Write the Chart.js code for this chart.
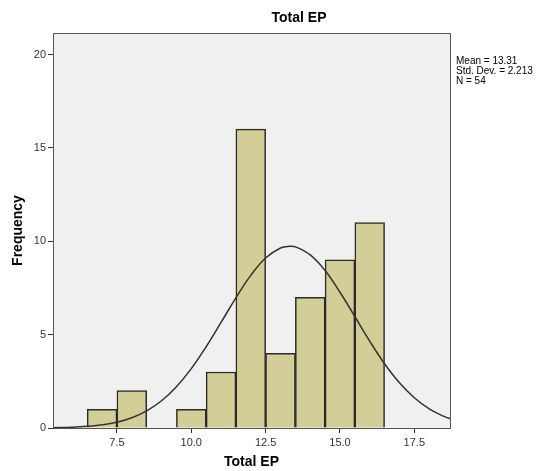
<!DOCTYPE html>
<html>
<head>
<meta charset="utf-8">
<script src="https://cdn.jsdelivr.net/npm/chart.js@4"></script>
<style>
  html, body { margin: 0; padding: 0; background: #fff; }
  #wrap { width: 537px; height: 471px; }
</style>
</head>
<body>
<div id="wrap"><canvas id="histChart" width="537" height="471"></canvas></div>
<script>
// Histogram bins (bin centres) and counts
const binCentres = [7, 8, 10, 11, 12, 13, 14, 15, 16];
const counts = [1, 2, 1, 3, 16, 4, 7, 9, 11];

// Normal curve
const curveX = [5.35, 6, 6.5, 7, 7.5, 8, 8.5, 9, 9.5, 10, 10.5, 11, 11.5, 12, 12.5, 13, 13.31, 13.5, 14, 14.5, 15, 15.5, 16, 16.5, 17, 17.5, 18, 18.5, 18.7];
const curveY = [0.02, 0.04, 0.09, 0.17, 0.31, 0.55, 0.92, 1.46, 2.21, 3.18, 4.35, 5.65, 6.97, 8.17, 9.10, 9.64, 9.73, 9.70, 9.27, 8.43, 7.27, 5.97, 4.65, 3.44, 2.42, 1.62, 1.03, 0.62, 0.50];

const xTicks = [7.5, 10.0, 12.5, 15.0, 17.5];
const yTicks = [0, 5, 10, 15, 20];
const statsLines = ['Mean = 13.31', 'Std. Dev. = 2.213', 'N = 54'];

const FONT = 'Liberation Sans, Arial, sans-serif';

// plot background, frame, title and stats text
const decor = {
  id: 'decor',
  beforeDraw(chart) {
    const { ctx, chartArea: a } = chart;
    ctx.save();
    ctx.fillStyle = '#f0f0f0';
    ctx.fillRect(a.left, a.top, a.right - a.left, a.bottom - a.top);
    ctx.restore();
  },
  afterDraw(chart) {
    const { ctx, chartArea: a } = chart;
    ctx.save();
    ctx.strokeStyle = '#555';
    ctx.lineWidth = 1;
    ctx.strokeRect(a.left + 0.5, a.top + 0.5, a.right - a.left, a.bottom - a.top);
    ctx.fillStyle = '#000';
    ctx.font = 'bold 14px ' + FONT;
    ctx.textAlign = 'center';
    ctx.textBaseline = 'middle';
    ctx.fillText('Total EP', 299, 18);
    ctx.font = '10px ' + FONT;
    ctx.textAlign = 'left';
    statsLines.forEach((s, i) => ctx.fillText(s, 456, 61 + i * 10));
    ctx.restore();
  }
};

new Chart(document.getElementById('histChart'), {
  data: {
    datasets: [
      {
        type: 'line',
        data: curveX.map((x, i) => ({ x: x, y: curveY[i] })),
        borderColor: '#333',
        borderWidth: 1.5,
        pointRadius: 0,
        tension: 0.4,
        fill: false,
        order: 0
      },
      {
        type: 'bar',
        data: binCentres.map((x, i) => ({ x: x, y: counts[i] })),
        backgroundColor: '#d3ce97',
        borderColor: '#2a2a2a',
        borderWidth: 1.5,
        barPercentage: 1,
        categoryPercentage: 1,
        order: 1
      }
    ]
  },
  options: {
    responsive: false,
    animation: false,
    layout: { padding: { top: 33, right: 87, left: 0, bottom: 0 } },
    plugins: {
      legend: { display: false },
      tooltip: { enabled: false }
    },
    scales: {
      x: {
        type: 'linear',
        offset: false,
        min: 5.35,
        max: 18.7,
        afterBuildTicks: s => { s.ticks = xTicks.map(v => ({ value: v })); },
        afterFit: s => { s.height = 43; },
        grid: { offset: false, drawOnChartArea: false, tickLength: 5, color: '#333' },
        border: { color: '#333' },
        ticks: {
          color: '#333',
          font: { family: FONT, size: 11 },
          padding: 3,
          callback: v => Number(v).toFixed(1)
        },
        title: {
          display: true,
          text: 'Total EP',
          color: '#000',
          font: { family: FONT, size: 14, weight: 'bold' },
          padding: { top: 4, bottom: 0 }
        }
      },
      y: {
        min: 0,
        max: 21.15,
        afterBuildTicks: s => { s.ticks = yTicks.map(v => ({ value: v })); },
        afterFit: s => { s.width = 53; },
        grid: { drawOnChartArea: false, tickLength: 5, color: '#333' },
        border: { color: '#333' },
        ticks: {
          color: '#333',
          font: { family: FONT, size: 11 },
          padding: 2
        },
        title: {
          display: true,
          text: 'Frequency',
          color: '#000',
          font: { family: FONT, size: 14, weight: 'bold' },
          padding: { top: 10, bottom: 0 }
        }
      }
    }
  },
  plugins: [decor]
});
</script>
</body>
</html>
